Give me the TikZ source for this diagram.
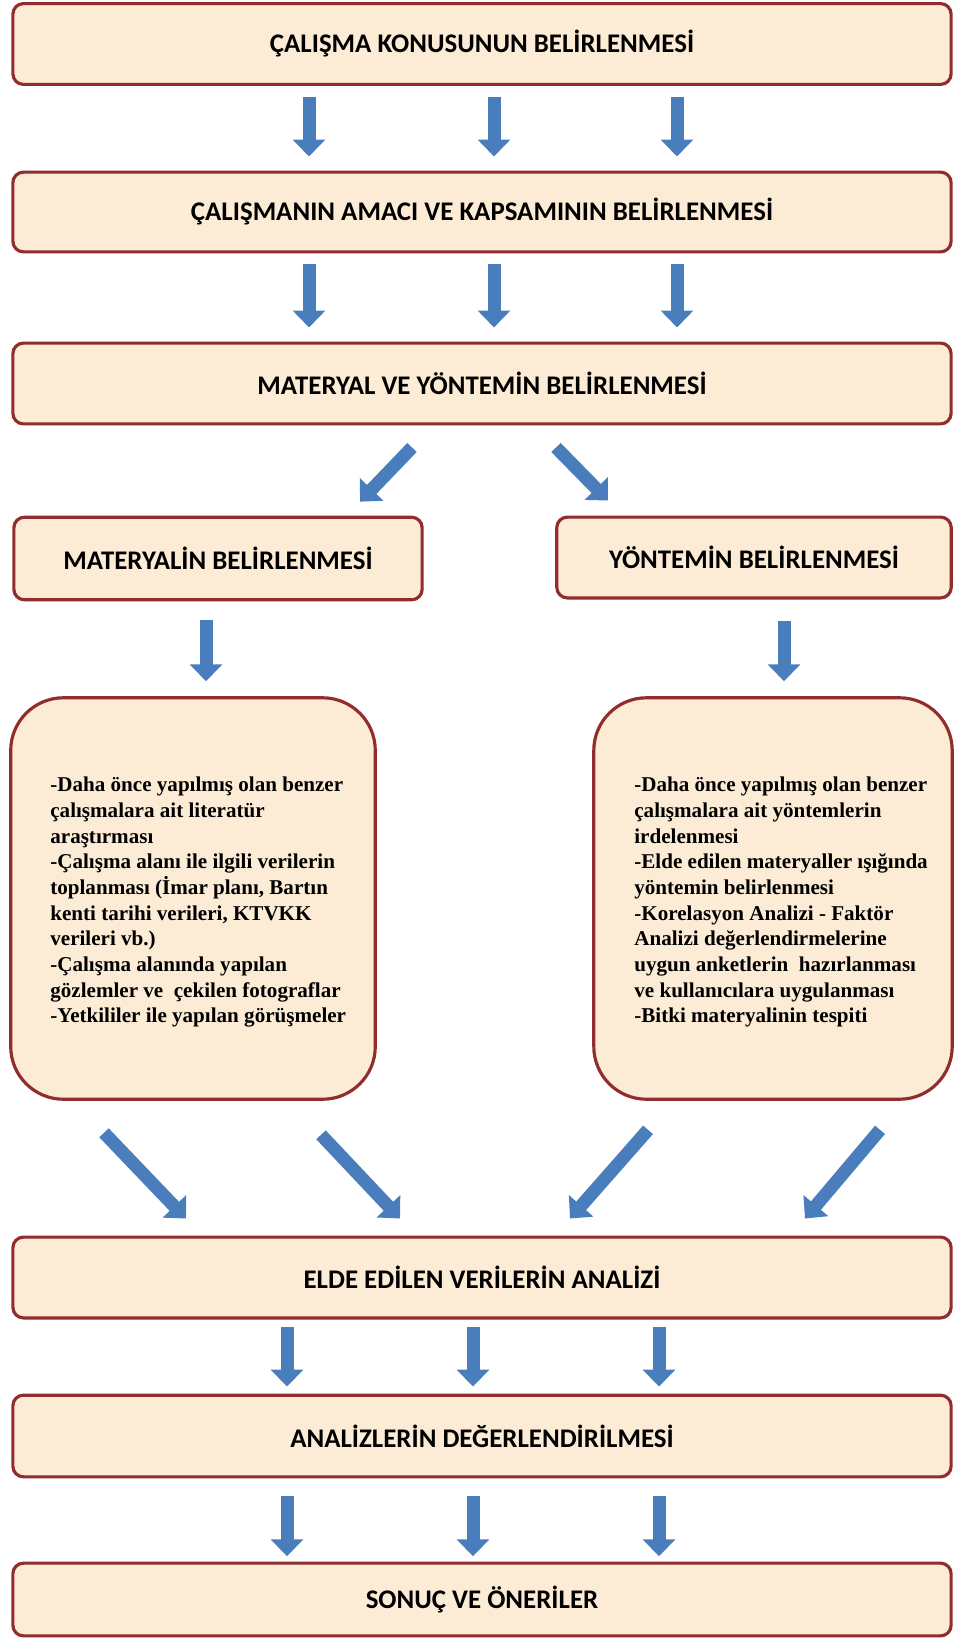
\documentclass[tikz,border=0pt]{standalone}
\usepackage{fontspec}
\setmainfont{Liberation Serif}
\newfontfamily\boxfont{Carlito}
\usetikzlibrary{arrows.meta,calc}

\definecolor{boxfill}{RGB}{252,235,213}
\definecolor{boxline}{RGB}{145,45,45}
\definecolor{flowblue}{RGB}{74,125,188}

\tikzset{
    stepbox/.style={rectangle, rounded corners=6pt, draw=boxline, fill=boxfill, line width=1.8pt, font=\boxfont\bfseries\fontsize{15.3}{18}\selectfont},
    listbox/.style={rectangle, rounded corners=30pt, draw=boxline, fill=boxfill, line width=1.8pt, minimum height=228.5pt},
    listtext/.style={anchor=north west, align=left, inner sep=0pt, font=\bfseries\fontsize{12}{14.6}\selectfont},
    flow/.style={draw=flowblue, line width=7.4pt, -{Triangle[length=9.6pt,width=18pt]}}
}

\begin{document}
\begin{tikzpicture}[x=0.02cm, y=-0.02cm]
    \useasboundingbox (0,0) rectangle (956,1640);

    \node at (482,44) [stepbox, minimum width=534pt, minimum height=46pt] (konu) {ÇALIŞMA KONUSUNUN BELİRLENMESİ};
    \node at (482,212) [stepbox, minimum width=534pt, minimum height=45.4pt] (amac) {ÇALIŞMANIN AMACI VE KAPSAMININ BELİRLENMESİ};
    \node at (482,383.5) [stepbox, minimum width=534pt, minimum height=46pt] (materyal) {MATERYAL VE YÖNTEMİN BELİRLENMESİ};
    \node at (218,558.5) [stepbox, minimum width=232.4pt, minimum height=47pt] (matbelir) {MATERYALİN BELİRLENMESİ};
    \node at (754,557.5) [stepbox, minimum width=224.5pt, minimum height=46pt] (yonbelir) {YÖNTEMİN BELİRLENMESİ};

    \node at (193,898.5) [listbox, minimum width=207.5pt] (matlist) {};
    \node at (773,898.5) [listbox, minimum width=204pt] (yonlist) {};
    \node at (50,777) [listtext] (mattext) {-Daha önce yapılmış olan benzer\\
        çalışmalara ait literatür\\
        araştırması\\
        -Çalışma alanı ile ilgili verilerin\\
        toplanması (İmar planı, Bartın\\
        kenti tarihi verileri, KTVKK\\
        verileri vb.)\\
        -Çalışma alanında yapılan\\
        gözlemler ve\ \ çekilen fotograflar\\
        -Yetkililer ile yapılan görüşmeler};
    \node at (634,777) [listtext] (yontext) {-Daha önce yapılmış olan benzer\\
        çalışmalara ait yöntemlerin\\
        irdelenmesi\\
        -Elde edilen materyaller ışığında\\
        yöntemin belirlenmesi\\
        -Korelasyon Analizi - Faktör\\
        Analizi değerlendirmelerine\\
        uygun anketlerin\ \ hazırlanması\\
        ve kullanıcılara uygulanması\\
        -Bitki materyalinin tespiti};

    \node at (482,1277.5) [stepbox, minimum width=534pt, minimum height=46pt] (analiz) {ELDE EDİLEN VERİLERİN ANALİZİ};
    \node at (482,1436) [stepbox, minimum width=534pt, minimum height=46.5pt] (deger) {ANALİZLERİN DEĞERLENDİRİLMESİ};
    \node at (482,1599.5) [stepbox, minimum width=534pt, minimum height=41.4pt] (sonuc) {SONUÇ VE ÖNERİLER};

    \coordinate (colA) at (309,0);
    \coordinate (colB) at (494,0);
    \coordinate (colC) at (677,0);
    \coordinate (colD) at (287,0);
    \coordinate (colE) at (473,0);
    \coordinate (colF) at (659,0);
    \coordinate (colM) at (206,0);
    \coordinate (colY) at (784,0);

    \draw[flow, shorten <=6pt, shorten >=8pt] (konu.south -| colA) -- (amac.north -| colA);
    \draw[flow, shorten <=6pt, shorten >=8pt] (konu.south -| colB) -- (amac.north -| colB);
    \draw[flow, shorten <=6pt, shorten >=8pt] (konu.south -| colC) -- (amac.north -| colC);

    \draw[flow, shorten <=6pt, shorten >=8pt] (amac.south -| colA) -- (materyal.north -| colA);
    \draw[flow, shorten <=6pt, shorten >=8pt] (amac.south -| colB) -- (materyal.north -| colB);
    \draw[flow, shorten <=6pt, shorten >=8pt] (amac.south -| colC) -- (materyal.north -| colC);

    \draw[flow] ($(materyal.south)+(-70,22)$) -- ($(matbelir.north)+(142,-14)$);
    \draw[flow] ($(materyal.south)+(74,22)$) -- ($(yonbelir.north)+(-146,-15)$);

    \draw[flow, shorten <=10.8pt, shorten >=8.5pt] (matbelir.south -| colM) -- (matlist.north -| colM);
    \draw[flow, shorten <=12pt, shorten >=8.5pt] (yonbelir.south -| colY) -- (yonlist.north -| colY);

    \draw[flow] ($(matlist.south)+(-89,32)$) -- ($(analiz.north)+(-296,-17)$);
    \draw[flow] ($(matlist.south)+(128,34)$) -- ($(analiz.north)+(-82,-17)$);
    \draw[flow] ($(yonlist.south)+(-125,29)$) -- ($(analiz.north)+(88,-17)$);
    \draw[flow] ($(yonlist.south)+(107,29)$) -- ($(analiz.north)+(323,-17)$);

    \draw[flow, shorten <=4pt, shorten >=4pt] (analiz.south -| colD) -- (deger.north -| colD);
    \draw[flow, shorten <=4pt, shorten >=4pt] (analiz.south -| colE) -- (deger.north -| colE);
    \draw[flow, shorten <=4pt, shorten >=4pt] (analiz.south -| colF) -- (deger.north -| colF);

    \draw[flow, shorten <=10pt, shorten >=3pt] (deger.south -| colD) -- (sonuc.north -| colD);
    \draw[flow, shorten <=10pt, shorten >=3pt] (deger.south -| colE) -- (sonuc.north -| colE);
    \draw[flow, shorten <=10pt, shorten >=3pt] (deger.south -| colF) -- (sonuc.north -| colF);
\end{tikzpicture}
\end{document}
